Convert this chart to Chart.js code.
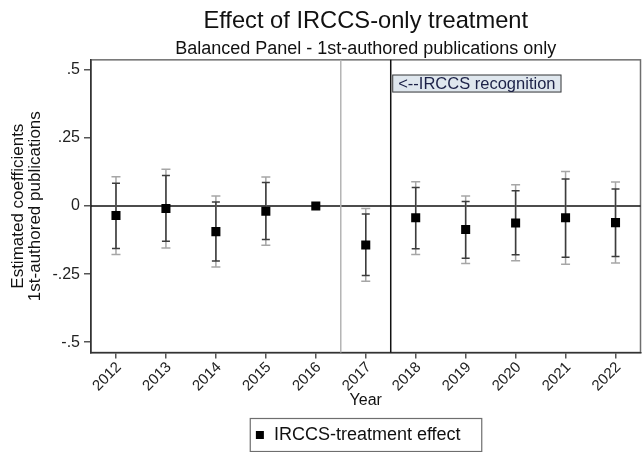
<!DOCTYPE html>
<html><head><meta charset="utf-8">
<script src="https://cdn.jsdelivr.net/npm/chart.js@4.4.1/dist/chart.umd.min.js"></script>
<style>html,body{margin:0;padding:0;background:#fff}#wrap{width:642px;height:452px;position:relative}</style>
</head><body><div id="wrap"><canvas id="c"></canvas></div>
<script>
// ---- data ----
const years = [2012, 2013, 2014, 2015, 2016, 2017, 2018, 2019, 2020, 2021, 2022];
const coef = [-0.035, -0.009, -0.094, -0.019, 0, -0.143, -0.043, -0.086, -0.062, -0.043, -0.061];
const ciInnerLow = [-0.156, -0.129, -0.202, -0.123, null, -0.255, -0.157, -0.192, -0.179, -0.188, -0.185];
const ciInnerHigh = [0.084, 0.112, 0.015, 0.086, null, -0.029, 0.068, 0.017, 0.056, 0.099, 0.063];
const ciOuterLow = [-0.178, -0.154, -0.224, -0.144, null, -0.276, -0.178, -0.211, -0.201, -0.214, -0.209];
const ciOuterHigh = [0.108, 0.135, 0.037, 0.107, null, -0.009, 0.089, 0.037, 0.078, 0.127, 0.088];
const yTickValues = [-0.5, -0.25, 0, 0.25, 0.5];
const yTickLabels = ['-.5', '-.25', '0', '.25', '.5'];
const refLineGray = 2016.5;
const refLineBlack = 2017.5;
const noteText = '<--IRCCS recognition';
const noteX = 2017.5;
const noteY = 0.45;
const titleText = 'Effect of IRCCS-only treatment';
const subtitleText = 'Balanced Panel - 1st-authored publications only';
const yTitle = ['Estimated coefficients', '1st-authored publications'];
const xTitle = 'Year';
const seriesLabel = 'IRCCS-treatment effect';

const FONT = "'Liberation Sans', Arial, Helvetica, sans-serif";

const overlay = {
  id: 'overlay',
  afterLayout(chart) {
    const lg = chart.legend;
    lg.left -= 8; lg.right -= 8;
    lg.top += 2; lg.bottom += 2;
  },
  beforeDraw(chart) {
    const {ctx, chartArea: a} = chart;
    ctx.save();
    ctx.fillStyle = '#fff';
    ctx.fillRect(0, 0, chart.width, chart.height);
    ctx.strokeStyle = '#6e6e6e';
    ctx.lineWidth = 1.5;
    ctx.strokeRect(a.left, a.top, a.right - a.left, a.bottom - a.top);
    ctx.restore();
  },
  beforeDatasetsDraw(chart) {
    const {ctx, chartArea: a, scales: {x, y}} = chart;
    ctx.save();
    const y0 = y.getPixelForValue(0);
    ctx.strokeStyle = '#111';
    ctx.lineWidth = 1.5;
    ctx.beginPath(); ctx.moveTo(a.left, y0); ctx.lineTo(a.right, y0); ctx.stroke();
    const xg = x.getPixelForValue(refLineGray);
    ctx.strokeStyle = '#b4b4b4';
    ctx.beginPath(); ctx.moveTo(xg, a.top); ctx.lineTo(xg, a.bottom); ctx.stroke();
    const xb = x.getPixelForValue(refLineBlack);
    ctx.strokeStyle = '#111';
    ctx.beginPath(); ctx.moveTo(xb, a.top); ctx.lineTo(xb, a.bottom); ctx.stroke();
    // note box
    ctx.font = '16.5px ' + FONT;
    const tw = ctx.measureText(noteText).width;
    const nx = x.getPixelForValue(noteX) + 1.5;
    const ny = y.getPixelForValue(noteY);
    ctx.fillStyle = '#dfe7ee';
    ctx.fillRect(nx, ny - 9, tw + 12, 18);
    ctx.strokeStyle = '#3a3a3a';
    ctx.lineWidth = 1;
    ctx.strokeRect(nx + 0.5, ny - 8.5, tw + 11, 17);
    ctx.fillStyle = '#1c2147';
    ctx.textBaseline = 'middle';
    ctx.textAlign = 'left';
    ctx.fillText(noteText, nx + 6, ny + 0.5);
    // error bars
    const drawBar = (lo, hi, color, lw, cap) => {
      ctx.strokeStyle = color; ctx.lineWidth = lw;
      years.forEach((yr, i) => {
        if (lo[i] === null || hi[i] === null) return;
        const px = x.getPixelForValue(yr);
        const pl = y.getPixelForValue(lo[i]);
        const ph = y.getPixelForValue(hi[i]);
        ctx.beginPath();
        ctx.moveTo(px, pl); ctx.lineTo(px, ph);
        ctx.moveTo(px - cap, pl); ctx.lineTo(px + cap, pl);
        ctx.moveTo(px - cap, ph); ctx.lineTo(px + cap, ph);
        ctx.stroke();
      });
    };
    drawBar(ciOuterLow, ciOuterHigh, '#a6a6a6', 1.5, 4.5);
    drawBar(ciInnerLow, ciInnerHigh, '#3c3c3c', 1.5, 4);
    ctx.restore();
  },
  afterDraw(chart) {
    const {ctx, chartArea: a} = chart;
    const lg = chart.legend;
    const cx = (a.left + a.right) / 2;
    ctx.save();
    ctx.strokeStyle = '#6e6e6e';
    ctx.lineWidth = 1.2;
    ctx.strokeRect(cx - 115.5, lg.top + 1.5, 231.5, 33);
    ctx.restore();
  }
};

new Chart(document.getElementById('c'), {
  type: 'scatter',
  data: {
    datasets: [{
      label: seriesLabel,
      data: years.map((yr, i) => ({x: yr, y: coef[i]})),
      pointStyle: 'rect',
      pointRadius: 6.4,
      pointHoverRadius: 6.4,
      backgroundColor: '#000',
      borderColor: '#000',
      borderWidth: 0,
      showLine: false
    }]
  },
  options: {
    responsive: true,
    maintainAspectRatio: false,
    animation: false,
    devicePixelRatio: 1,
    layout: {autoPadding: false, padding: {left: 0, right: 1.5, top: 0, bottom: 0}},
    plugins: {
      title: {
        display: true, text: titleText, fullSize: false, color: '#111',
        font: {family: FONT, size: 23.7, weight: 'normal', lineHeight: 1.2},
        padding: {top: 7.4, bottom: 0}
      },
      subtitle: {
        display: true, text: subtitleText, fullSize: false, color: '#111',
        font: {family: FONT, size: 18, weight: 'normal', lineHeight: 1.2},
        padding: {top: 2.2, bottom: 0.2}
      },
      legend: {
        display: true, position: 'bottom', fullSize: false,
        labels: {
          usePointStyle: true, boxWidth: 10, boxHeight: 8, padding: 9,
          color: '#111', font: {family: FONT, size: 18}
        }
      },
      tooltip: {enabled: false}
    },
    scales: {
      x: {
        type: 'linear', min: 2011.5, max: 2022.5,
        afterBuildTicks: (s) => { s.ticks = years.map(v => ({value: v})); },
        afterFit: (s) => { s.height = 62.5; s.paddingLeft = 0; s.paddingRight = 0; },
        ticks: {
          callback: (v) => String(v), autoSkip: false, minRotation: 45, maxRotation: 45,
          labelOffset: 3,
          color: '#222', font: {family: FONT, size: 15}, padding: 0
        },
        grid: {drawOnChartArea: false, drawTicks: true, tickLength: 6, color: '#555', lineWidth: 1.5},
        border: {display: true, color: '#333', width: 1.5},
        title: {display: true, text: xTitle, color: '#111', font: {family: FONT, size: 16}, padding: {top: 0, bottom: 4.4}}
      },
      y: {
        type: 'linear', min: -0.538, max: 0.537,
        afterBuildTicks: (s) => { s.ticks = yTickValues.map(v => ({value: v})); },
        afterFit: (s) => { s.width = 91; },
        ticks: {
          callback: (v) => yTickLabels[yTickValues.indexOf(v)], color: '#222',
          font: {family: FONT, size: 16}, padding: 4
        },
        grid: {drawOnChartArea: false, drawTicks: true, tickLength: 7, color: '#555', lineWidth: 1.5},
        border: {display: true, color: '#333', width: 1.5},
        title: {display: true, text: yTitle, color: '#111', font: {family: FONT, size: 17, lineHeight: '17px'}, padding: {top: 9.5, bottom: 0}}
      }
    }
  },
  plugins: [overlay]
});
</script></body></html>
